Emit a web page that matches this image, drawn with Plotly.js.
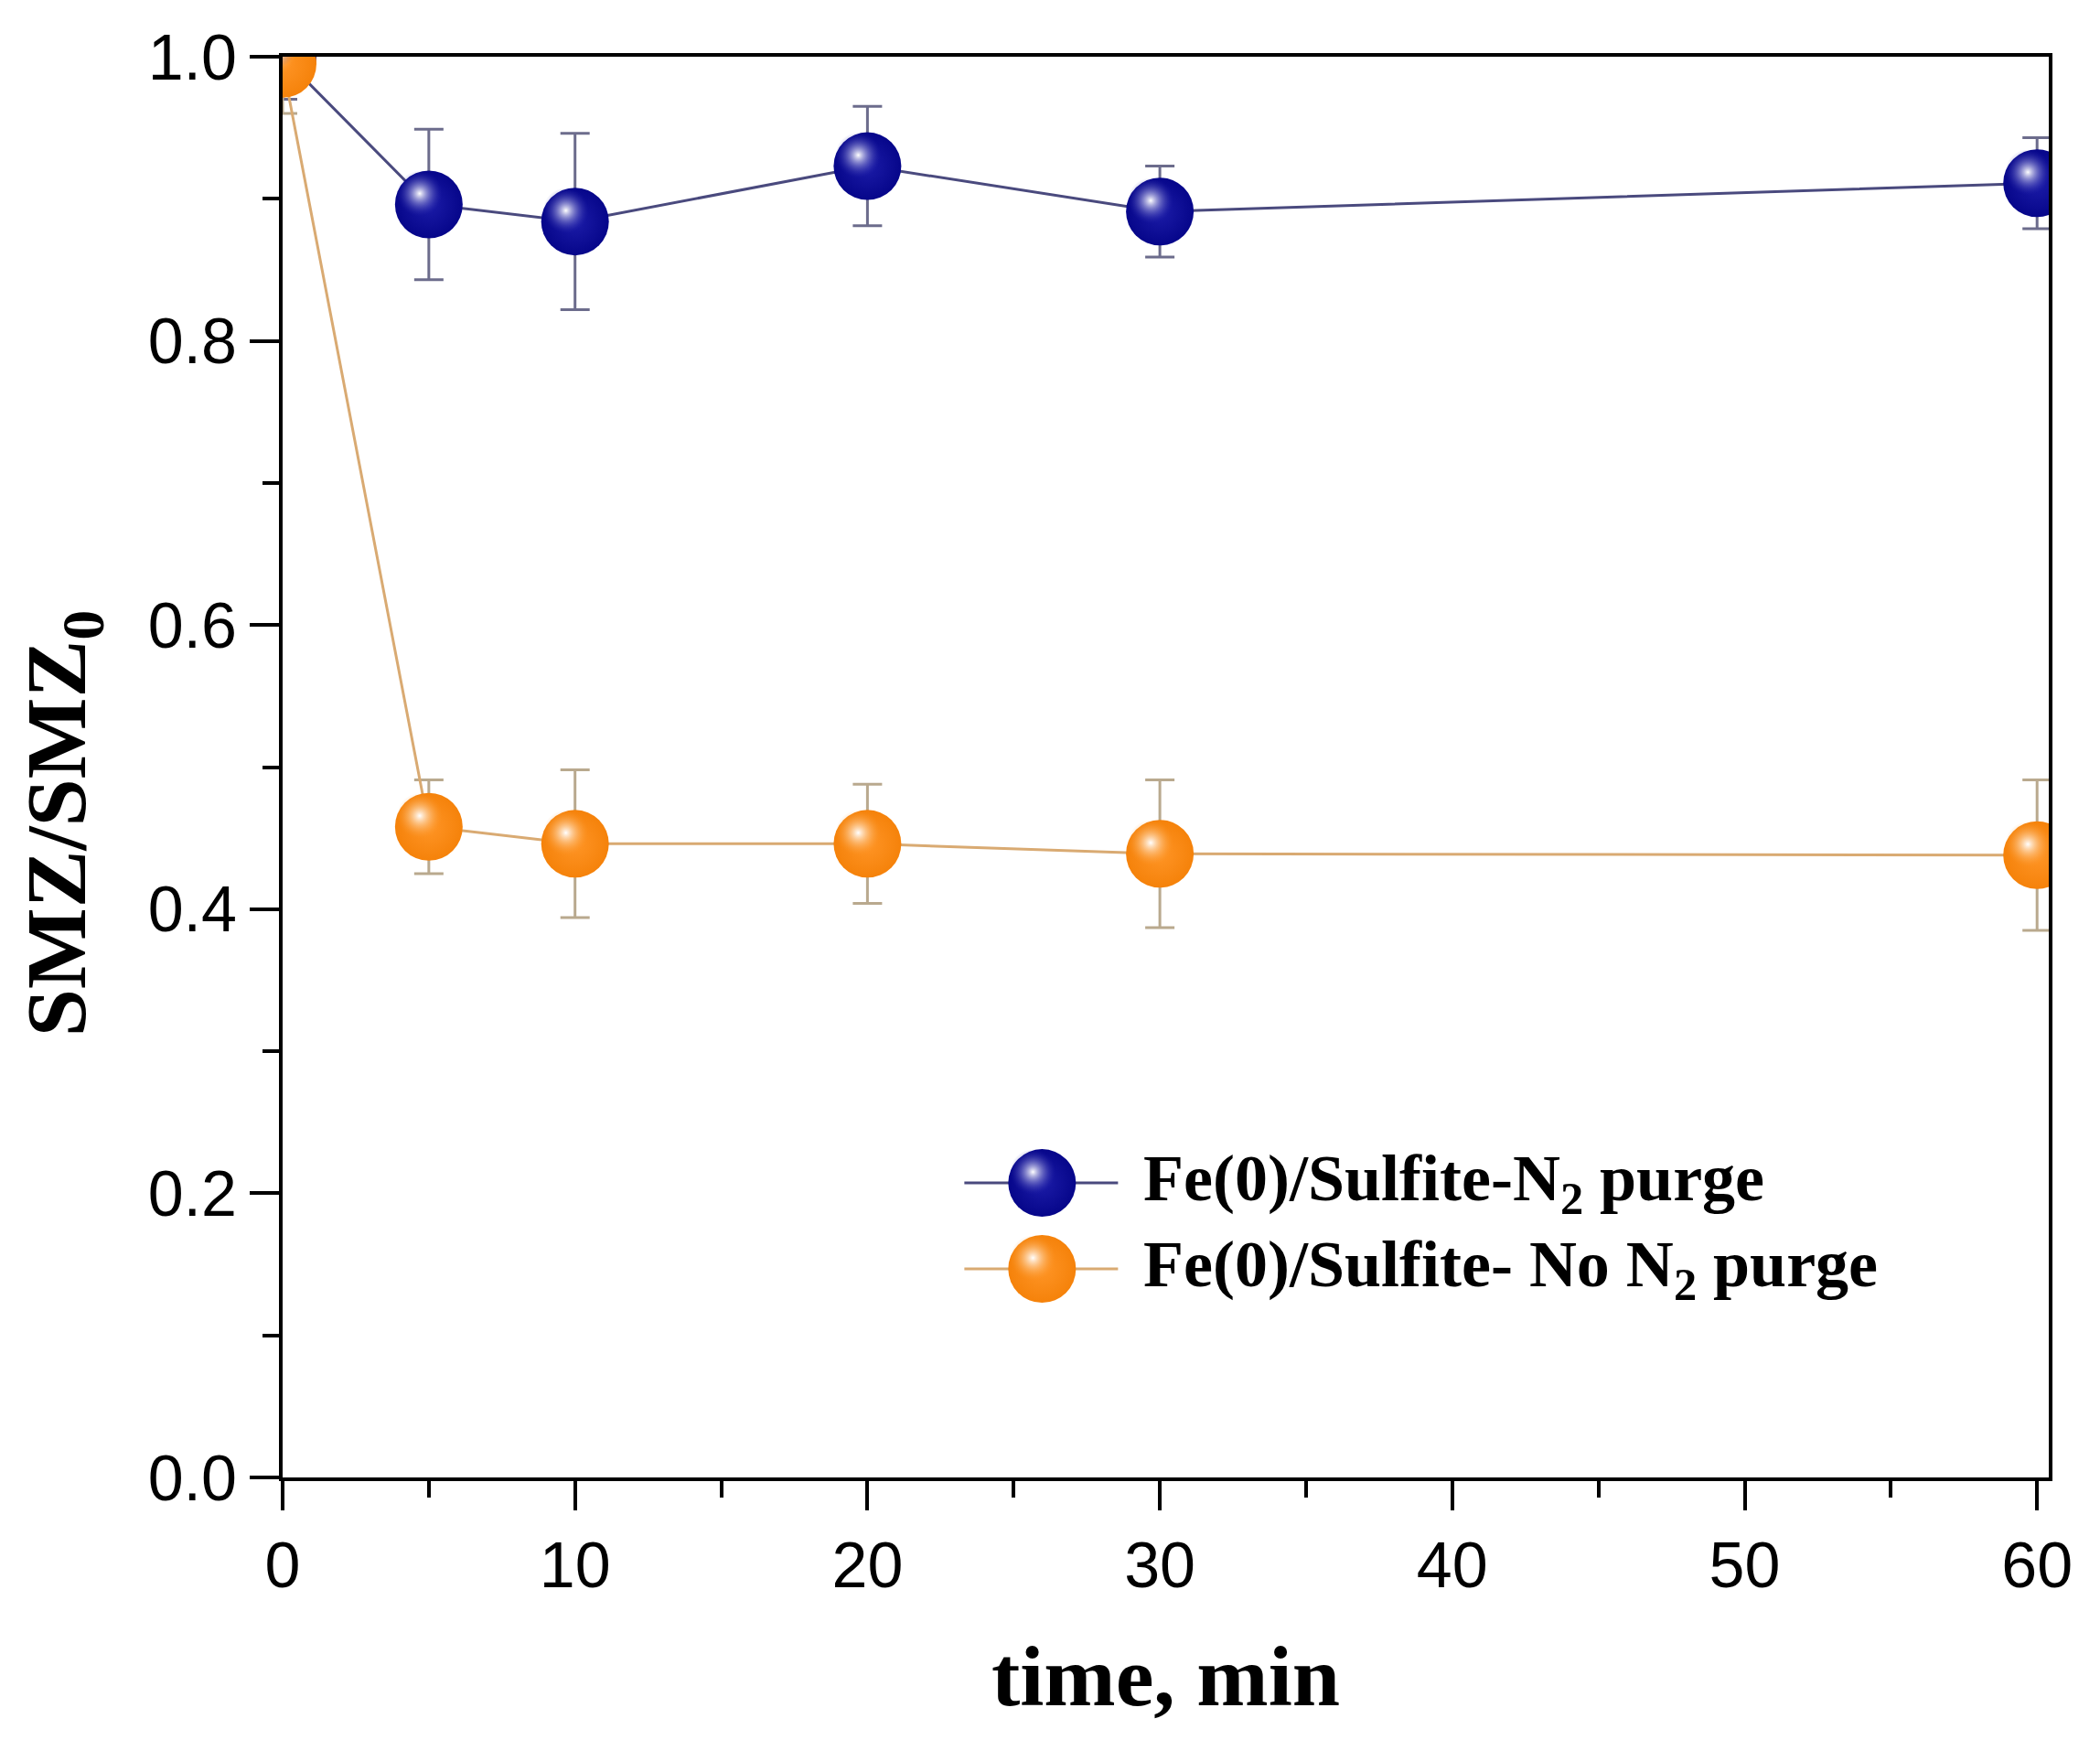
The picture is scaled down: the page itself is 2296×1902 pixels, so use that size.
<!DOCTYPE html>
<html>
<head>
<meta charset="utf-8">
<script src="https://cdn.plot.ly/plotly-3.0.1.min.js"></script>
<style>
  html, body { margin: 0; padding: 0; background: #fff; }
  #chart { width: 2296px; height: 1902px; }
</style>
</head>
<body>
<div id="chart"></div>
<script>
// sampling times (min)
const times = [0, 5, 10, 20, 30, 60];

// SMZ/SMZ0
const purgeValues = [1.0, 0.896, 0.884, 0.923, 0.891, 0.911];
const purgeErrors = [0.03, 0.053, 0.062, 0.042, 0.032, 0.032];
const noPurgeValues = [0.995, 0.458, 0.446, 0.446, 0.439, 0.438];
const noPurgeErrors = [0.035, 0.033, 0.052, 0.042, 0.052, 0.053];

const seriesNames = [
    'Fe(0)/Sulfite-N<sub>2</sub> purge',
    'Fe(0)/Sulfite- No N<sub>2</sub> purge'
];

const xTicks = [0, 10, 20, 30, 40, 50, 60];
const yTicks = [0, 0.2, 0.4, 0.6, 0.8, 1.0];

// styles
const NAVY = '#06068a';
const ORANGE = '#f5820a';
const X_RANGE = [0, 60.4];
const Y_RANGE = [0, 1];
const MARKER = 74;
const HILITE = 50;
// highlight offset on the sphere, in px
const HL_DX = 10, HL_DY = 12;
const PLOT_W = 2296 - 309 - 56, PLOT_H = 1902 - 62 - 287;

// legend glyph placement (fractions of plot area)
const LEG = { x0: 0.386, xm: 0.430, x1: 0.473, rows: [0.2073, 0.1468], textX: 0.4863 };

function mainTrace(y, err, color, lineColor, errColor, centerColor) {
    return {
        x: times, y: y, type: 'scatter', mode: 'lines+markers',
        line: { color: lineColor, width: 3 },
        marker: { size: MARKER, color: color, opacity: 1, line: { width: 0 },
                  gradient: { type: 'radial', color: centerColor } },
        error_y: { type: 'data', array: err, visible: true, color: errColor, thickness: 3, width: 16 },
        showlegend: false, hoverinfo: 'x+y'
    };
}

function hiliteTrace(y, edge, center) {
    return {
        x: times, y: y, type: 'scatter', mode: 'markers',
        xaxis: 'x3', yaxis: 'y3',
        marker: { size: HILITE, color: edge, opacity: 1, line: { width: 0 },
                  gradient: { type: 'radial', color: center } },
        showlegend: false, hoverinfo: 'skip'
    };
}

function legendGlyph(row, color, lineColor, centerColor) {
    const yy = LEG.rows[row];
    return {
        x: [LEG.x0, LEG.xm, LEG.x1], y: [yy, yy, yy],
        xaxis: 'x4', yaxis: 'y4', type: 'scatter', mode: 'lines+markers',
        line: { color: lineColor, width: 3 },
        marker: { size: [0, MARKER, 0], color: color, opacity: 1, line: { width: 0 },
                  gradient: { type: 'radial', color: centerColor } },
        cliponaxis: false, showlegend: false, hoverinfo: 'skip'
    };
}

function legendHilite(row, edge, center) {
    const yy = LEG.rows[row] + HL_DY / PLOT_H;
    return {
        x: [LEG.xm - HL_DX / PLOT_W], y: [yy],
        xaxis: 'x4', yaxis: 'y4', type: 'scatter', mode: 'markers',
        marker: { size: HILITE, color: edge, opacity: 1, line: { width: 0 },
                  gradient: { type: 'radial', color: center } },
        cliponaxis: false, showlegend: false, hoverinfo: 'skip'
    };
}

const dxData = HL_DX * (X_RANGE[1] - X_RANGE[0]) / PLOT_W;
const dyData = HL_DY * (Y_RANGE[1] - Y_RANGE[0]) / PLOT_H;

const NAVY_HL = ['rgba(40,40,170,0)', 'rgba(255,255,255,1)'];
const ORANGE_HL = ['rgba(250,150,40,0)', 'rgba(255,255,255,1)'];

const data = [
    mainTrace(purgeValues, purgeErrors, NAVY, '#4a4a7e', '#6c6c8c', '#1c1ca8'),
    mainTrace(noPurgeValues, noPurgeErrors, ORANGE, '#d9aa72', '#b9a98e', '#ff9526'),
    hiliteTrace(purgeValues, NAVY_HL[0], NAVY_HL[1]),
    hiliteTrace(noPurgeValues, ORANGE_HL[0], ORANGE_HL[1]),
    legendGlyph(0, NAVY, '#4a4a7e', '#1c1ca8'),
    legendGlyph(1, ORANGE, '#d9aa72', '#ff9526'),
    legendHilite(0, NAVY_HL[0], NAVY_HL[1]),
    legendHilite(1, ORANGE_HL[0], ORANGE_HL[1])
];

const tickFont = { family: 'Liberation Sans, Arial, sans-serif', size: 70, color: '#000' };
const titleFont = { family: 'Liberation Serif, Times New Roman, serif', size: 94, color: '#000' };

const axisBase = {
    showgrid: false, zeroline: false, showline: true, linecolor: '#000', linewidth: 4,
    mirror: true, ticks: 'outside', ticklen: 32, tickwidth: 4, tickcolor: '#000',
    tickfont: tickFont
};

const hiddenAxis = { visible: false, showticklabels: false, showgrid: false, zeroline: false };

const layout = {
    width: 2296, height: 1902,
    margin: { l: 309, r: 56, t: 62, b: 287 },
    paper_bgcolor: '#fff', plot_bgcolor: '#fff',
    showlegend: false,
    xaxis: Object.assign({}, axisBase, {
        range: X_RANGE, tickvals: xTicks,
        minor: { dtick: 5, ticks: 'outside', ticklen: 18, tickwidth: 4, tickcolor: '#000' },
        title: { text: '<b>time, min</b>', font: titleFont, standoff: 50 }
    }),
    yaxis: Object.assign({}, axisBase, {
        range: Y_RANGE, tickvals: yTicks, tickformat: '.1f',
        minor: { dtick: 0.1, ticks: 'outside', ticklen: 18, tickwidth: 4, tickcolor: '#000' }
    }),
    // inward ticks on the top and right frame
    xaxis2: {
        overlaying: 'x', side: 'top', anchor: 'y', range: X_RANGE, tickvals: xTicks,
        showgrid: false, zeroline: false, showline: false, showticklabels: false,
        ticks: 'inside', ticklen: 26, tickwidth: 4, tickcolor: '#000',
        minor: { dtick: 5, ticks: 'inside', ticklen: 16, tickwidth: 4, tickcolor: '#000' }
    },
    yaxis2: {
        overlaying: 'y', side: 'right', anchor: 'x', range: Y_RANGE, tickvals: yTicks,
        showgrid: false, zeroline: false, showline: false, showticklabels: false,
        ticks: 'inside', ticklen: 26, tickwidth: 4, tickcolor: '#000',
        minor: { dtick: 0.1, ticks: 'inside', ticklen: 16, tickwidth: 4, tickcolor: '#000' }
    },
    // shifted scales for the sphere highlights
    xaxis3: Object.assign({}, hiddenAxis, { overlaying: 'x', anchor: 'y3',
              range: [X_RANGE[0] + dxData, X_RANGE[1] + dxData] }),
    yaxis3: Object.assign({}, hiddenAxis, { overlaying: 'y', anchor: 'x3',
              range: [Y_RANGE[0] - dyData, Y_RANGE[1] - dyData] }),
    // unit scales for the legend glyphs
    xaxis4: Object.assign({}, hiddenAxis, { overlaying: 'x', anchor: 'y4', range: [0, 1] }),
    yaxis4: Object.assign({}, hiddenAxis, { overlaying: 'y', anchor: 'x4', range: [0, 1] }),
    annotations: seriesNames.map((name, i) => ({
        xref: 'paper', yref: 'paper', x: LEG.textX, y: LEG.rows[i],
        xanchor: 'left', yanchor: 'middle', showarrow: false,
        text: '<b>' + name + '</b>',
        font: { family: 'Liberation Serif, Times New Roman, serif', size: 72, color: '#000' }
    })).concat([{
        // y-axis title, placed like the original (a bit below centre)
        xref: 'paper', yref: 'paper', x: -0.125, y: 0.46,
        xanchor: 'center', yanchor: 'middle', showarrow: false, textangle: -90,
        text: '<b>SMZ/SMZ<sub>0</sub></b>', font: titleFont
    }])
};

Plotly.newPlot('chart', data, layout, { displayModeBar: false, staticPlot: true });
</script>
</body>
</html>
